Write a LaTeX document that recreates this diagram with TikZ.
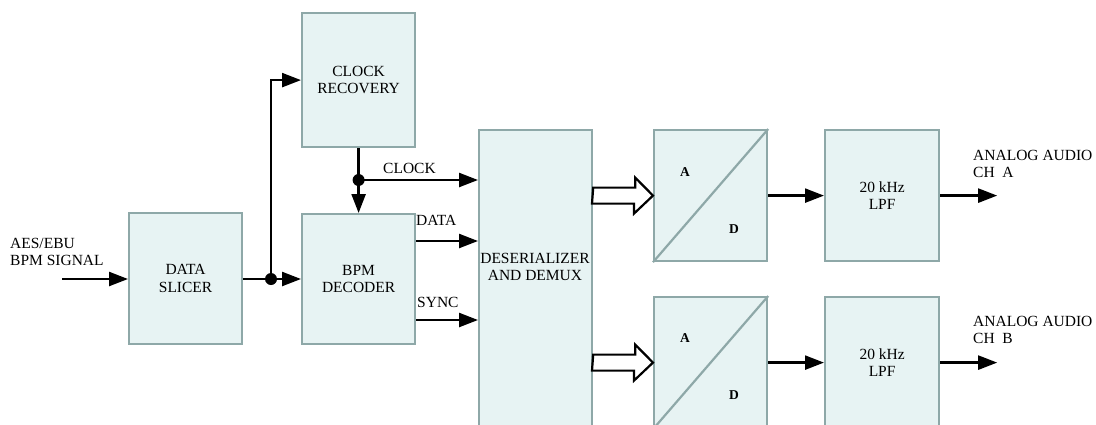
\documentclass[tikz,border=0pt]{standalone}
\usepackage{fontspec}
\setmainfont{Liberation Serif}
\usetikzlibrary{arrows.meta,calc}
\definecolor{boxfill}{RGB}{231,243,243}
\definecolor{boxline}{RGB}{142,168,168}
\begin{document}
\begin{tikzpicture}[x=1pt,y=-1pt,
  txt/.style={font=\fontsize{15.5}{17.5}\selectfont, align=center, inner sep=0pt},
  blk/.style={draw=boxline, fill=boxfill, line width=2.2pt, minimum width=113pt,
    minimum height=131pt, inner sep=0pt, anchor=north west, txt},
  sig/.style={line width=2.4pt, -{Triangle[length=19pt,width=14pt]}},
  wire/.style={line width=2.4pt},
  hollowarrow/.style={draw=black, fill=white, line width=2.2pt, miter limit=10},
  dot/.style={circle, fill=black, inner sep=0pt, minimum size=12pt},
  adl/.style={font=\bfseries\fontsize{13.5}{15}\selectfont, inner sep=0pt}]
\useasboundingbox (0,0) rectangle (1096,424);
\clip (0,0) rectangle (1096,424);
% blocks
\node[blk] (slicer) at (128,212) {DATA\\SLICER};
\node[blk, minimum height=134pt] (clk) at (301,12) {CLOCK\\RECOVERY};
\node[blk, minimum height=130pt] (bpm) at (301,213) {BPM\\DECODER};
\node[blk, minimum height=300pt] (des) at (478,129) {};
\node[txt] (destext) at (535,267) {DESERIALIZER\\AND DEMUX};
\node[blk] (ad1) at (653,129) {};
\node[blk] (ad2) at (653,296) {};
\node[blk, minimum width=114pt] (lpf1) at (824,129) {20 kHz\\LPF};
\node[blk, minimum width=114pt] (lpf2) at (824,296) {20 kHz\\LPF};
% A/D diagonals and letters
\draw[boxline, line width=2.2pt] (ad1.south west) -- (ad1.north east);
\draw[boxline, line width=2.2pt] (ad2.south west) -- (ad2.north east);
\node[adl] (a1) at (685,172) {A};
\node[adl] (d1) at (734,229) {D};
\node[adl] (a2) at (685,338) {A};
\node[adl] (d2) at (734,395) {D};
% input
\node[txt, anchor=west, align=left] (inlabel) at (10,252) {AES/EBU\\BPM SIGNAL};
\coordinate (in) at (62,279);
\draw[sig] (in) -- (in -| slicer.west);
% slicer to decoder and clock recovery
\node[dot] (j1) at (271,279) {};
\draw[wire] (j1 -| slicer.east) -- (j1.center);
\draw[sig] (j1.center) -- (j1 -| bpm.west);
\draw[sig] (j1.center) |- (clk.west);
% clock
\coordinate (j2c) at (clk.south |- 0,180);
\node[dot] (j2) at (j2c) {};
\draw[wire] (clk.south) -- (j2.center);
\draw[sig] (j2.center) -- (j2 |- bpm.north);
\draw[sig] (j2.center) -- (j2 -| des.west);
\node[txt, anchor=west] (clklabel) at (383,168) {CLOCK};
% data, sync
\coordinate (yd) at (0,241);
\coordinate (ys) at (0,320);
\draw[sig] (bpm.east |- yd) -- (des.west |- yd);
\draw[sig] (bpm.east |- ys) -- (des.west |- ys);
\node[txt, anchor=west] (datalabel) at (416,220) {DATA};
\node[txt, anchor=west] (synclabel) at (417,302) {SYNC};
% hollow bus arrows
\draw[hollowarrow] ($(des.east|-ad1.west)+(0,-8)$) -- ++(42,0) -- ++(0,-10) -- (ad1.west) -- ++(-19,18) -- ++(0,-10) -- ++(-42,0) -- cycle;
\draw[hollowarrow] ($(des.east|-ad2.west)+(0,-8)$) -- ++(42,0) -- ++(0,-10) -- (ad2.west) -- ++(-19,18) -- ++(0,-10) -- ++(-42,0) -- cycle;
% A/D to LPF
\draw[sig] (ad1.east) -- (lpf1.west);
\draw[sig] (ad2.east) -- (lpf2.west);
% outputs
\coordinate (o1) at ($(lpf1.east)+(57,0)$);
\coordinate (o2) at ($(lpf2.east)+(57,0)$);
\draw[sig] (lpf1.east) -- (o1);
\draw[sig] (lpf2.east) -- (o2);
\node[txt, anchor=north west, align=left] (outa) at (973,150) {ANALOG AUDIO\\CH\ \ A};
\node[txt, anchor=north west, align=left] (outb) at (973,316) {ANALOG AUDIO\\CH\ \ B};
\end{tikzpicture}
\end{document}
